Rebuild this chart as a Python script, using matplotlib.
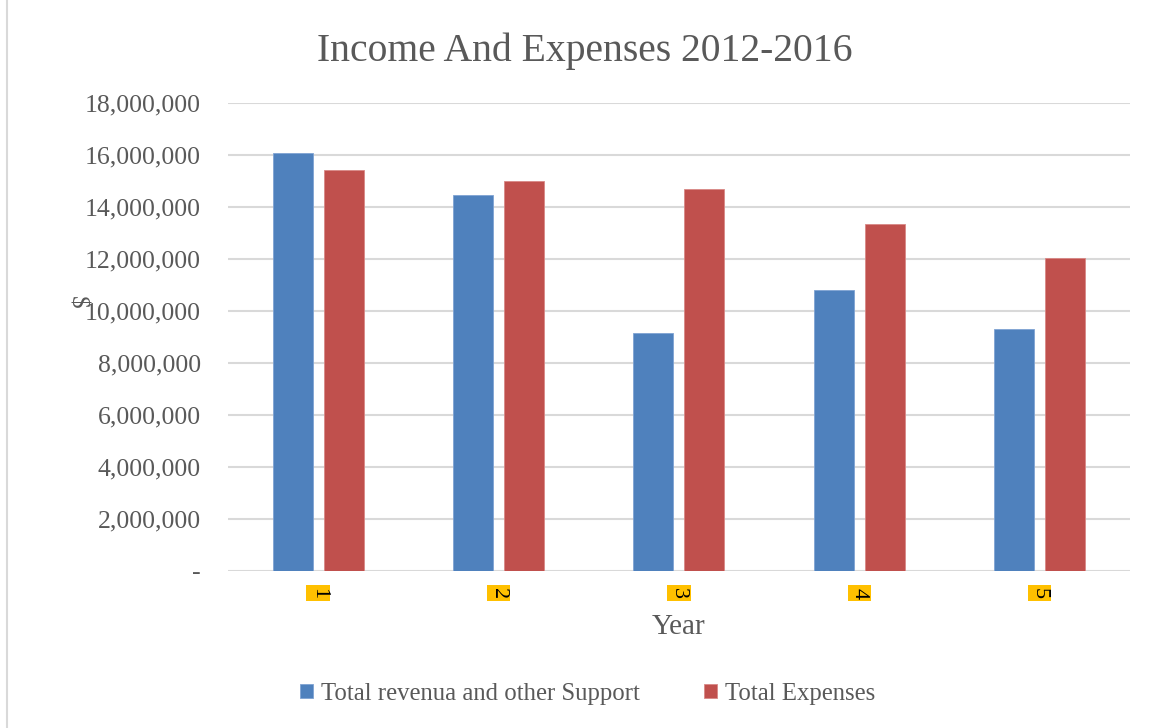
import matplotlib
matplotlib.use("Agg")
import matplotlib.pyplot as plt
from matplotlib.patches import Rectangle
from matplotlib.ticker import FuncFormatter
import numpy as np

categories = ["1", "2", "3", "4", "5"]
revenue = [16080000, 14460000, 9150000, 10810000, 9310000]
expenses = [15420000, 15000000, 14690000, 13350000, 12040000]
series_names = ["Total revenua and other Support", "Total Expenses"]
title = "Income And Expenses 2012-2016"

plt.rcParams['font.family'] = ['Liberation Serif', 'DejaVu Serif']
txt = '#595959'

fig = plt.figure(figsize=(11.54, 7.28), dpi=100)
ax = fig.add_axes([0.1976, 0.2157, 0.7814, 0.6428])

x = np.arange(len(categories))
w = 0.222
off = 0.141
ax.bar(x - off, revenue, w, color='#4F81BD', edgecolor='#7FA3D3', linewidth=0.6, label=series_names[0], zorder=3)
ax.bar(x + off, expenses, w, color='#C0504D', edgecolor='#D98886', linewidth=0.6, label=series_names[1], zorder=3)

ax.set_xlim(-0.5, 4.5)
ax.set_ylim(0, 18000000)
ax.set_yticks(np.arange(0, 18000001, 2000000))
ax.yaxis.set_major_formatter(FuncFormatter(lambda v, p: '-' if v == 0 else f'{int(v):,}'))
ax.grid(axis='y', color='#D9D9D9', linewidth=1.5, zorder=0)
for s in ax.spines.values():
    s.set_visible(False)
ax.tick_params(axis='y', length=0, pad=19.5, labelsize=18.5, labelcolor=txt)
ax.tick_params(axis='x', length=0, pad=12)
ax.set_xticks(x)
ax.set_xticklabels(categories, rotation=-90, fontsize=16, color='black')
for lbl in ax.get_xticklabels():
    lbl.set_bbox(dict(facecolor='#FFC000', edgecolor='none', pad=1.6))

ax.set_xlabel("Year", fontsize=21, color=txt, labelpad=11)
fig.text(0.066, 0.585, "$", rotation=-90, fontsize=18, color=txt, ha='center', va='center')
fig.text(0.507, 0.93, title, fontsize=28.5, color=txt, ha='center', va='center')

leg = fig.legend(loc='center', bbox_to_anchor=(0.509, 0.047), ncol=2, frameon=False,
                 fontsize=17.8, handlelength=0.55, handleheight=0.55, handletextpad=0.3, columnspacing=2.6)
for t in leg.get_texts():
    t.set_color(txt)

fig.patches.append(Rectangle((0.006, -0.01), 1.1, 1.1, transform=fig.transFigure,
                             fill=False, edgecolor='#D9D9D9', linewidth=1.5))

fig.savefig("out.png", dpi=100)
